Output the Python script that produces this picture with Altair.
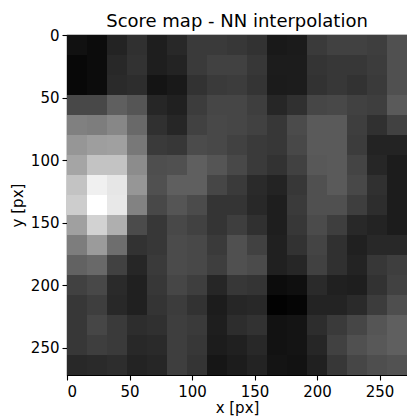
import altair as alt
import pandas as pd

# Grid geometry (image pixels per score cell) and axis ticks
cell = 16
n_cols = 17
ticks = [0, 50, 100, 150, 200, 250]
title_text = ["Score map - NN interpolation"]

# Score map (gray level of each cell, rows top -> bottom)
row00 = [17, 12, 35, 48, 30, 40, 58, 58, 55, 50, 25, 27, 58, 65, 65, 62, 80]
row01 = [8, 12, 40, 50, 30, 35, 58, 65, 65, 55, 28, 28, 52, 55, 55, 60, 80]
row02 = [8, 12, 42, 45, 20, 25, 50, 58, 60, 52, 27, 28, 50, 55, 50, 58, 80]
row03 = [72, 72, 95, 85, 38, 32, 60, 70, 70, 62, 38, 48, 70, 72, 65, 62, 90]
row04 = [128, 125, 135, 105, 48, 38, 65, 72, 70, 65, 55, 75, 90, 90, 62, 48, 65]
row05 = [150, 158, 160, 120, 58, 55, 75, 72, 65, 58, 55, 72, 90, 90, 60, 35, 35]
row06 = [165, 195, 195, 140, 78, 80, 95, 85, 72, 58, 50, 65, 88, 90, 68, 38, 28]
row07 = [195, 240, 230, 150, 80, 95, 95, 70, 58, 42, 35, 55, 80, 90, 72, 48, 28]
row08 = [205, 255, 232, 130, 72, 85, 75, 52, 52, 40, 30, 58, 80, 80, 62, 45, 28]
row09 = [160, 210, 175, 75, 55, 72, 65, 52, 62, 48, 30, 55, 75, 62, 40, 35, 28]
row10 = [125, 155, 110, 50, 55, 75, 72, 58, 80, 65, 32, 50, 68, 48, 32, 40, 40]
row11 = [98, 105, 65, 38, 58, 75, 72, 62, 80, 75, 32, 38, 65, 48, 35, 55, 62]
row12 = [65, 72, 42, 32, 55, 70, 62, 38, 55, 52, 12, 15, 42, 32, 30, 50, 65]
row13 = [55, 62, 40, 32, 52, 60, 50, 28, 38, 40, 2, 5, 35, 35, 42, 60, 78]
row14 = [55, 70, 58, 45, 48, 62, 58, 30, 45, 50, 18, 20, 45, 58, 70, 85, 95]
row15 = [55, 62, 58, 40, 42, 62, 55, 28, 32, 40, 18, 20, 38, 65, 80, 88, 95]
row16 = [40, 42, 45, 35, 38, 62, 52, 22, 28, 35, 20, 18, 32, 55, 70, 78, 82]

rows = [row00, row01, row02, row03, row04, row05, row06, row07, row08,
        row09, row10, row11, row12, row13, row14, row15, row16]

records = []
for r, vals in enumerate(rows):
    for c, v in enumerate(vals):
        records.append({"x0": c * cell, "x1": (c + 1) * cell,
                        "y0": r * cell, "y1": (r + 1) * cell, "score": v})
df = pd.DataFrame(records)
extent = n_cols * cell

FONT = "DejaVu Sans"

heat = alt.Chart(df).mark_rect(strokeWidth=0).encode(
    x=alt.X("x0:Q", scale=alt.Scale(domain=[0, extent], nice=False, zero=False),
            axis=alt.Axis(title="x [px]", values=ticks, grid=False)),
    x2="x1:Q",
    y=alt.Y("y0:Q", scale=alt.Scale(domain=[0, extent], nice=False, zero=False, reverse=True),
            axis=alt.Axis(title="y [px]", values=ticks, grid=False)),
    y2="y1:Q",
    color=alt.Color("score:Q", legend=None,
                    scale=alt.Scale(domain=[0, 255], range=["#000000", "#ffffff"],
                                    interpolate="rgb")),
)

title = alt.Chart(pd.DataFrame({"t": title_text})).mark_text(
    font=FONT, fontSize=18, color="black", align="center", baseline="alphabetic"
).encode(text="t:N", x=alt.value(170), y=alt.value(-8))

chart = alt.layer(heat, title).properties(
    width=340, height=340,
    autosize=alt.AutoSizeParams(type="none"),
    padding={"left": 67, "top": 35, "right": 0, "bottom": 41},
).configure_view(
    stroke="black", strokeWidth=1.1
).configure_axis(
    labelFont=FONT, titleFont=FONT, labelFontSize=15, titleFontSize=15,
    titleFontWeight="normal", labelColor="black", titleColor="black",
    domainColor="black", tickColor="black", tickSize=5, tickWidth=1.1,
    domainWidth=1.1,
).configure_axisX(
    labelPadding=4, titlePadding=1,
).configure_axisY(
    labelPadding=3, titlePadding=5, labelAngle=0,
)

chart.save("out.html", embed_options={"renderer": "svg", "actions": False})
